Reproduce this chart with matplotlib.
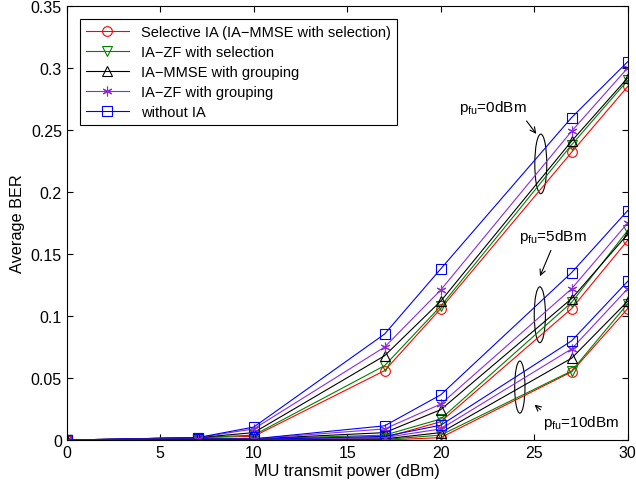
import matplotlib.pyplot as plt
from matplotlib.patches import Ellipse

plt.rcParams['font.family'] = ['Liberation Sans', 'DejaVu Sans']

power = [0, 7, 10, 17, 20, 27, 30]

# pfu = 0 dBm
sel_ia_0 = [0, 0.002, 0.003, 0.056, 0.106, 0.232, 0.285]
zf_sel_0 = [0, 0.002, 0.004, 0.060, 0.108, 0.238, 0.290]
mmse_grp_0 = [0, 0.002, 0.006, 0.068, 0.112, 0.241, 0.292]
zf_grp_0 = [0, 0.002, 0.009, 0.075, 0.121, 0.249, 0.300]
no_ia_0 = [0, 0.002, 0.0105, 0.0855, 0.138, 0.260, 0.305]

# pfu = 5 dBm
sel_ia_5 = [0, 0.001, 0.001, 0.002, 0.0148, 0.106, 0.161]
zf_sel_5 = [0, 0.001, 0.001, 0.004, 0.017, 0.111, 0.169]
mmse_grp_5 = [0, 0.001, 0.001, 0.006, 0.0245, 0.114, 0.166]
zf_grp_5 = [0, 0.001, 0.001, 0.009, 0.029, 0.122, 0.175]
no_ia_5 = [0, 0.001, 0.001, 0.0115, 0.0365, 0.135, 0.185]

# pfu = 10 dBm
sel_ia_10 = [0, 0.0005, 0.0005, 0.0, 0.002, 0.055, 0.106]
zf_sel_10 = [0, 0.0005, 0.0005, 0.0005, 0.004, 0.0557, 0.110]
mmse_grp_10 = [0, 0.0005, 0.0005, 0.001, 0.006, 0.066, 0.112]
zf_grp_10 = [0, 0.0005, 0.0005, 0.002, 0.009, 0.0735, 0.122]
no_ia_10 = [0, 0.0005, 0.0005, 0.003, 0.012, 0.080, 0.128]

labels = ['Selective IA (IA\u2212MMSE with selection)', 'IA\u2212ZF with selection',
          'IA\u2212MMSE with grouping', 'IA\u2212ZF with grouping', 'without IA']
colors = ['red', '#008000', 'black', '#8a2be2', 'blue']
markers = ['o', 'v', '^', (6, 2, 0), 's']

groups = [
    [sel_ia_0, zf_sel_0, mmse_grp_0, zf_grp_0, no_ia_0],
    [sel_ia_5, zf_sel_5, mmse_grp_5, zf_grp_5, no_ia_5],
    [sel_ia_10, zf_sel_10, mmse_grp_10, zf_grp_10, no_ia_10],
]

fig = plt.figure(figsize=(6.36, 4.89), dpi=100)
ax = fig.add_axes([0.105, 0.098, 0.882, 0.888])

for g, series in enumerate(groups):
    for i, vals in enumerate(series):
        ax.plot(power, vals, color=colors[i], marker=markers[i], markersize=7,
                markerfacecolor='none', markeredgewidth=0.8, linewidth=0.8,
                label=labels[i] if g == 0 else None)

ax.set_xlim(0, 30)
ax.set_ylim(0, 0.35)
ax.set_xticks([0, 5, 10, 15, 20, 25, 30])
ax.set_yticks([0, 0.05, 0.1, 0.15, 0.2, 0.25, 0.3, 0.35])
ax.set_yticklabels(['0', '0.05', '0.1', '0.15', '0.2', '0.25', '0.3', '0.35'])
ax.tick_params(direction='in', top=True, right=True, labelsize=11.5, length=4)
ax.set_xlabel('MU transmit power (dBm)', fontsize=11.7, labelpad=2)
ax.set_ylabel('Average BER', fontsize=11.7, labelpad=4)

leg = ax.legend(loc='upper left', bbox_to_anchor=(0.023, 0.970), fontsize=10.5,
                fancybox=False, edgecolor='black', framealpha=1, borderaxespad=0,
                handlelength=3, borderpad=0.4, labelspacing=0.42)
leg.get_frame().set_linewidth(0.8)

# ellipses around each pfu group
ax.add_patch(Ellipse((25.35, 0.2226), 0.64, 0.048, fill=False, lw=0.8))
ax.add_patch(Ellipse((25.3, 0.101), 0.6, 0.045, fill=False, lw=0.8))
ax.add_patch(Ellipse((24.23, 0.0427), 0.55, 0.042, fill=False, lw=0.8))

sub = r'p$_{\mathregular{fu}}$'
ax.annotate('', xy=(25.2, 0.245), xytext=(24.5, 0.259),
            arrowprops=dict(arrowstyle='->', lw=0.8))
ax.text(21.0, 0.2685, sub + '=0dBm', fontsize=11, va='center')

ax.annotate('', xy=(25.25, 0.130), xytext=(25.95, 0.155),
            arrowprops=dict(arrowstyle='->', lw=0.8))
ax.text(24.2, 0.1645, sub + '=5dBm', fontsize=11, va='center')

ax.annotate('', xy=(24.9, 0.030), xytext=(25.45, 0.023),
            arrowprops=dict(arrowstyle='->', lw=0.8))
ax.text(25.45, 0.0145, sub + '=10dBm', fontsize=11, va='center')

fig.savefig('out.png', dpi=100)
